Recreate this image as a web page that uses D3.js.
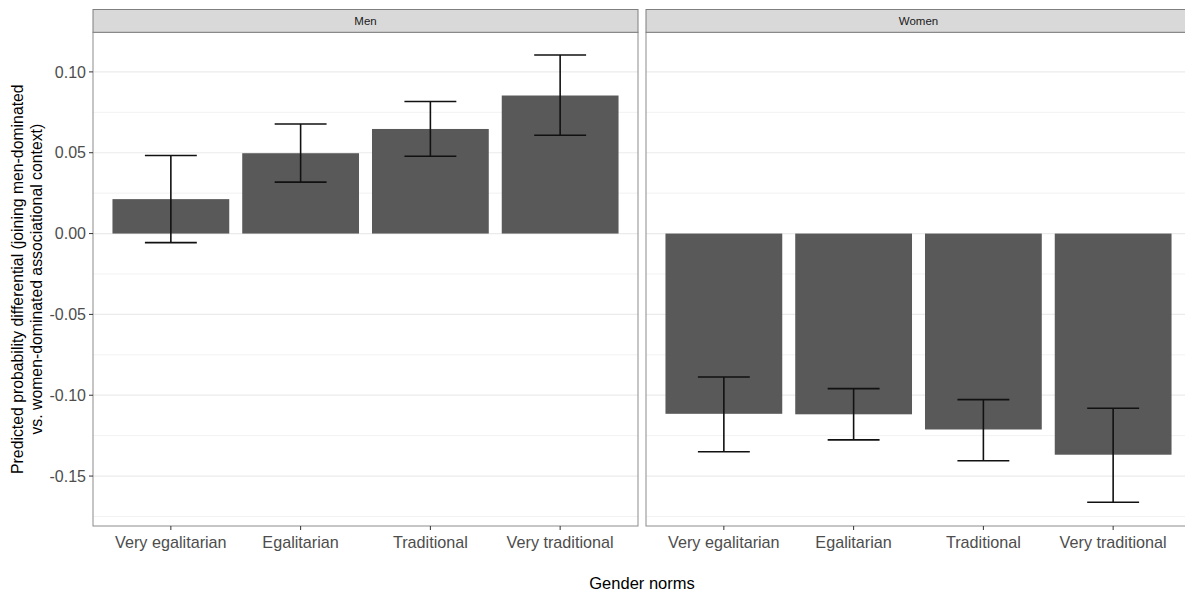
<!DOCTYPE html>
<html>
<head>
<meta charset="utf-8">
<script src="https://cdn.jsdelivr.net/npm/d3@7"></script>
<style>
  body { margin: 0; background: #fff; overflow: hidden; }
  svg text { font-family: "Liberation Sans", Arial, sans-serif; }
</style>
</head>
<body>
<svg id="chart"></svg>
<script>
var panels = ['Men', 'Women'];
var norms = ['Very egalitarian', 'Egalitarian', 'Traditional', 'Very traditional'];
var menEst = [0.0213, 0.0497, 0.0647, 0.0854];
var menLow = [-0.0056, 0.0318, 0.0478, 0.0608];
var menHigh = [0.0483, 0.0678, 0.0817, 0.1105];
var womenEst = [-0.1115, -0.1118, -0.1212, -0.1368];
var womenLow = [-0.1350, -0.1276, -0.1405, -0.1662];
var womenHigh = [-0.0887, -0.0959, -0.1027, -0.1081];
var yTicks = [-0.15, -0.10, -0.05, 0.00, 0.05, 0.10];
var yMinor = [-0.175, -0.125, -0.075, -0.025, 0.025, 0.075, 0.125];

var width = 1185, height = 597;
var panelW = 545, gap = 8;
var plotLeft = 93, plotTop = 32.3, plotBottom = 526;

var svg = d3.select('#chart')
  .attr('width', width)
  .attr('height', height)
  .style('display', 'block');

var y = d3.scaleLinear()
  .domain([-0.1809, 0.1245])
  .range([plotBottom, plotTop]);

// ggplot discrete axis: 0.6 units of padding on each side, bars 0.9 wide
var x = d3.scaleLinear().domain([0.4, 4.6]).range([0, panelW]);
var unit = x(1) - x(0);

var data = {
  Men: norms.map(function(n, i) { return {norm: n, est: menEst[i], lo: menLow[i], hi: menHigh[i]}; }),
  Women: norms.map(function(n, i) { return {norm: n, est: womenEst[i], lo: womenLow[i], hi: womenHigh[i]}; })
};

panels.forEach(function(p, k) {
  var x0 = plotLeft + k * (panelW + gap);
  var g = svg.append('g').attr('transform', 'translate(' + x0 + ',0)');

  // grid
  g.selectAll('.minor').data(yMinor.filter(function(d) { return y(d) > plotTop; })).enter().append('line')
    .attr('x1', 0).attr('x2', panelW)
    .attr('y1', function(d) { return y(d); })
    .attr('y2', function(d) { return y(d); })
    .attr('stroke', '#f2f2f2').attr('stroke-width', 1);
  g.selectAll('.major').data(yTicks).enter().append('line')
    .attr('x1', 0).attr('x2', panelW)
    .attr('y1', function(d) { return y(d); })
    .attr('y2', function(d) { return y(d); })
    .attr('stroke', '#ebebeb').attr('stroke-width', 1.2);

  // bars
  g.selectAll('rect.bar').data(data[p]).enter().append('rect')
    .attr('class', 'bar')
    .attr('x', function(d, i) { return x(i + 1) - unit * 0.45; })
    .attr('width', unit * 0.9)
    .attr('y', function(d) { return y(Math.max(0, d.est)); })
    .attr('height', function(d) { return Math.abs(y(d.est) - y(0)); })
    .attr('fill', '#595959');

  // error bars
  var eb = g.selectAll('g.err').data(data[p]).enter().append('g')
    .attr('stroke', '#111').attr('stroke-width', 1.6);
  eb.append('line')
    .attr('x1', function(d, i) { return x(i + 1); })
    .attr('x2', function(d, i) { return x(i + 1); })
    .attr('y1', function(d) { return y(d.lo); })
    .attr('y2', function(d) { return y(d.hi); });
  eb.append('line')
    .attr('x1', function(d, i) { return x(i + 1) - unit * 0.2; })
    .attr('x2', function(d, i) { return x(i + 1) + unit * 0.2; })
    .attr('y1', function(d) { return y(d.lo); })
    .attr('y2', function(d) { return y(d.lo); });
  eb.append('line')
    .attr('x1', function(d, i) { return x(i + 1) - unit * 0.2; })
    .attr('x2', function(d, i) { return x(i + 1) + unit * 0.2; })
    .attr('y1', function(d) { return y(d.hi); })
    .attr('y2', function(d) { return y(d.hi); });

  // panel border
  g.append('rect')
    .attr('x', 0).attr('y', plotTop)
    .attr('width', panelW).attr('height', plotBottom - plotTop)
    .attr('fill', 'none').attr('stroke', '#8c8c8c').attr('stroke-width', 1);

  // strip
  g.append('rect')
    .attr('x', 0).attr('y', 9.5)
    .attr('width', panelW).attr('height', plotTop - 9.5)
    .attr('fill', '#d9d9d9').attr('stroke', '#7f7f7f').attr('stroke-width', 1);
  g.append('text')
    .attr('x', panelW / 2).attr('y', 25)
    .attr('text-anchor', 'middle')
    .attr('font-size', 11.5).attr('fill', '#1a1a1a')
    .text(p);

  // x axis
  var xa = g.append('g').attr('transform', 'translate(0,' + plotBottom + ')');
  xa.selectAll('line').data(norms).enter().append('line')
    .attr('x1', function(d, i) { return x(i + 1); })
    .attr('x2', function(d, i) { return x(i + 1); })
    .attr('y1', 0).attr('y2', 4)
    .attr('stroke', '#333').attr('stroke-width', 1);
  xa.selectAll('text').data(norms).enter().append('text')
    .attr('x', function(d, i) { return x(i + 1); })
    .attr('y', 22)
    .attr('text-anchor', 'middle')
    .attr('font-size', 16.2).attr('fill', '#4d4d4d')
    .text(function(d) { return d; });
});

// y axis on the left panel
var ya = svg.append('g').attr('transform', 'translate(' + plotLeft + ',0)');
ya.selectAll('line').data(yTicks).enter().append('line')
  .attr('x1', -4).attr('x2', 0)
  .attr('y1', function(d) { return y(d); })
  .attr('y2', function(d) { return y(d); })
  .attr('stroke', '#333').attr('stroke-width', 1);
ya.selectAll('text').data(yTicks).enter().append('text')
  .attr('x', -7)
  .attr('y', function(d) { return y(d); })
  .attr('dy', '0.35em')
  .attr('text-anchor', 'end')
  .attr('font-size', 16).attr('fill', '#4d4d4d')
  .text(function(d) { return d3.format('.2f')(d).replace('−', '-'); });

// axis titles
svg.append('text')
  .attr('x', 642).attr('y', 589)
  .attr('text-anchor', 'middle')
  .attr('font-size', 16.5).attr('fill', '#000')
  .text('Gender norms');

var yt = svg.append('text')
  .attr('transform', 'translate(0,' + ((plotTop + plotBottom) / 2) + ') rotate(-90)')
  .attr('text-anchor', 'middle')
  .attr('font-size', 15.8).attr('fill', '#000');
yt.append('tspan').attr('x', 0).attr('y', 23)
  .text('Predicted probability differential (joining men-dominated');
yt.append('tspan').attr('x', 0).attr('y', 42)
  .text('vs. women-dominated associational context)');
</script>
</body>
</html>
